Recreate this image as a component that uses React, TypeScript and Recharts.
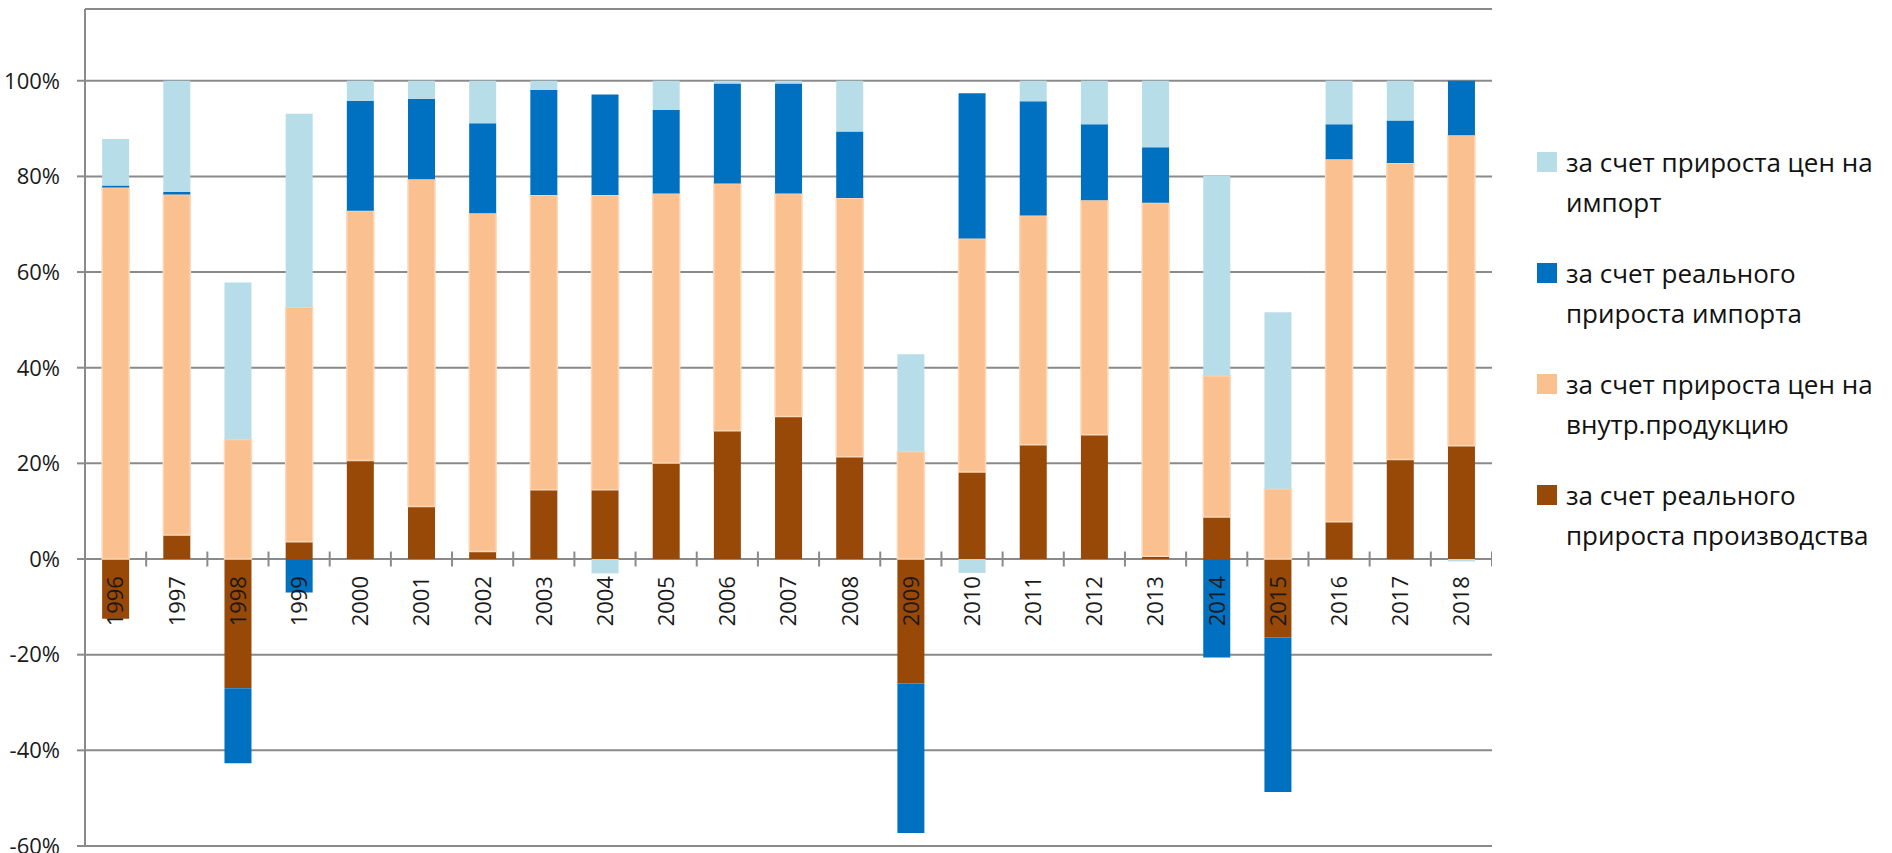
import React from "react";
import {
  ComposedChart,
  Bar,
  Scatter,
  XAxis,
  YAxis,
  CartesianGrid,
  Legend,
} from "recharts";

const years = [
  "1996", "1997", "1998", "1999", "2000", "2001", "2002", "2003", "2004", "2005", "2006", "2007",
  "2008", "2009", "2010", "2011", "2012", "2013", "2014", "2015", "2016", "2017", "2018",
];

// за счет реального прироста производства
const realProduction = [
  -12.5, 5.0, -27.0, 3.6, 20.6, 11.0, 1.6, 14.5, 14.5, 20.1, 26.8, 29.8, 21.4, -26.0, 18.2, 23.9,
  26.0, 0.6, 8.8, -16.4, 7.8, 20.8, 23.7,
];
// за счет прироста цен на внутр.продукцию
const domesticPrices = [
  77.7, 71.2, 25.0, 49.1, 52.2, 68.4, 70.7, 61.6, 61.6, 56.3, 51.7, 46.6, 54.1, 22.5, 48.8, 47.9,
  49.0, 73.9, 29.5, 14.7, 75.8, 62.0, 64.9,
];
// за счет реального прироста импорта
const realImport = [
  0.4, 0.6, -15.7, -7.0, 23.0, 16.8, 18.8, 22.0, 21.0, 17.5, 20.9, 23.0, 13.9, -31.3, 30.4, 23.9,
  15.9, 11.6, -20.6, -32.3, 7.3, 8.9, 11.4,
];
// за счет прироста цен на импорт
const importPrices = [
  9.7, 23.2, 32.8, 40.4, 4.2, 3.8, 8.9, 1.9, -3.0, 6.1, 0.6, 0.6, 10.6, 20.3, -2.9, 4.3, 9.1, 13.9,
  41.8, 36.9, 9.1, 8.3, -0.5,
];

const yTicks = [-60, -40, -20, 0, 20, 40, 60, 80, 100];

const seriesKeys = ["prod", "dom", "imp", "impPrice"];
const seriesNames = [
  "за счет реального прироста производства",
  "за счет прироста цен на внутр.продукцию",
  "за счет реального прироста импорта",
  "за счет прироста цен на импорт",
];
const seriesColors = ["#984807", "#FAC090", "#0070C0", "#B7DDE8"];
const seriesStrokes = ["none", "#FDD8B8", "none", "none"];

const rows = years.map((year, i) => ({
  year,
  prod: realProduction[i],
  dom: domesticPrices[i],
  imp: realImport[i],
  impPrice: importPrices[i],
  zero: 0,
  boundary: i + 1,
}));

const GRID = "#8a8a8a";
const FONT = "'Open Sans', 'DejaVu Sans', sans-serif";

const YearLabel = (props: any) => {
  const { cx, cy, payload } = props;
  if (cx == null || cy == null) return null;
  const y = cy + 17;
  return (
    <text
      x={cx}
      y={y}
      transform={`rotate(-90 ${cx} ${y})`}
      textAnchor="end"
      dy="0.36em"
      fontSize={22}
      fontFamily={FONT}
      fill="#1a1a1a"
    >
      {payload.year}
    </text>
  );
};

const BoundaryTick = (props: any) => {
  const { cx, cy } = props;
  if (cx == null || cy == null) return null;
  return <line x1={cx} x2={cx} y1={cy - 7.5} y2={cy + 7.5} stroke={GRID} strokeWidth={2} />;
};

const LegendContent = () => {
  const order = [3, 2, 1, 0];
  return (
    <div style={{ fontFamily: FONT, fontSize: 26, color: "#111" }}>
      {order.map((i) => (
        <div key={i} style={{ display: "flex", alignItems: "flex-start", marginBottom: 31 }}>
          <div
            style={{
              width: 20,
              height: 20,
              marginTop: 10,
              background: seriesColors[i],
              flexShrink: 0,
            }}
          />
          <div style={{ marginLeft: 9, width: 330, lineHeight: "40px" }}>{seriesNames[i]}</div>
        </div>
      ))}
    </div>
  );
};

export default function App() {
  return (
    <div style={{ position: "absolute", left: 0, top: 0, width: 1892, height: 853, background: "#fff" }}>
      <ComposedChart
        width={1892}
        height={853}
        data={rows}
        stackOffset="sign"
        barCategoryGap="28%"
        margin={{ top: 9, right: 400, bottom: 7, left: 0 }}
      >
        <CartesianGrid horizontal vertical={false} stroke={GRID} strokeWidth={2} />
        <XAxis dataKey="year" hide />
        <XAxis
          xAxisId="num"
          dataKey="boundary"
          type="number"
          domain={[0, 23]}
          allowDataOverflow
          hide
        />
        <YAxis
          width={85}
          domain={[-60, 115]}
          ticks={yTicks}
          allowDataOverflow
          interval={0}
          tickFormatter={(v: number) => `${v}%`}
          tick={{ fontSize: 22, fill: "#1a1a1a", fontFamily: FONT }}
          tickSize={8}
          tickMargin={17}
          axisLine={{ stroke: GRID, strokeWidth: 2 }}
          tickLine={{ stroke: GRID, strokeWidth: 2 }}
        />
        {seriesKeys.map((k, i) => (
          <Bar
            key={k}
            dataKey={k}
            name={seriesNames[i]}
            stackId="a"
            fill={seriesColors[i]}
            stroke={seriesStrokes[i]}
            strokeWidth={seriesStrokes[i] === "none" ? 0 : 1.5}
            isAnimationActive={false}
          />
        ))}
        <Scatter
          dataKey="zero"
          xAxisId="num"
          shape={BoundaryTick}
          legendType="none"
          isAnimationActive={false}
        />
        <Scatter dataKey="zero" shape={YearLabel} legendType="none" isAnimationActive={false} />
        <Legend
          layout="vertical"
          align="center"
          verticalAlign="middle"
          content={LegendContent}
          wrapperStyle={{ left: 1537, top: 142, width: 355 }}
        />
      </ComposedChart>
    </div>
  );
}
